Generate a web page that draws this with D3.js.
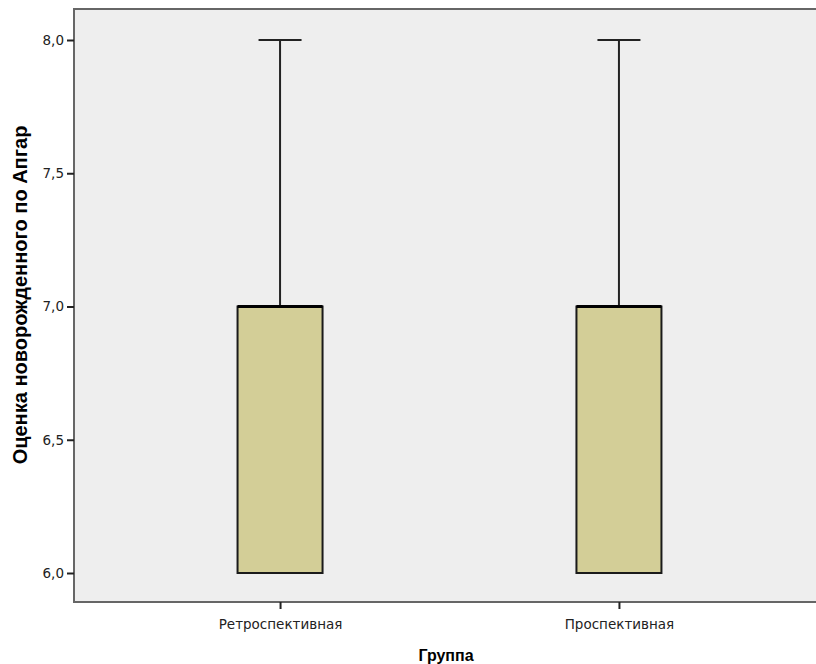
<!DOCTYPE html>
<html>
<head>
<meta charset="utf-8">
<script src="https://cdn.jsdelivr.net/npm/d3@7"></script>
<style>
  body { margin: 0; background: #fff; }
  svg text { font-family: "DejaVu Sans", sans-serif; }
</style>
</head>
<body>
<script>
const WIDTH = 816;
const HEIGHT = 664;

// data
const groups = ["Ретроспективная", "Проспективная"];
const mins = [6, 6];
const q1s = [6, 6];
const medians = [7, 7];
const q3s = [7, 7];
const maxs = [8, 8];
const yTicks = [6, 6.5, 7, 7.5, 8];

const plot = { left: 74, top: 9, right: 825, bottom: 602 };

const svg = d3.select("body")
              .append("svg")
              .attr("width", WIDTH)
              .attr("height", HEIGHT);

const x = d3.scalePoint()
            .domain(groups)
            .range([plot.left, plot.right])
            .padding(0.608);

const y = d3.scaleLinear()
            .domain([6, 8])
            .range([573, 40]);

const boxW = 85;
const capW = 43;

// plot background
svg.append("rect")
   .attr("x", plot.left)
   .attr("y", plot.top)
   .attr("width", plot.right - plot.left)
   .attr("height", plot.bottom - plot.top)
   .attr("fill", "#eeeeee")
   .attr("stroke", "#666")
   .attr("stroke-width", 2);

const rows = groups.map((g, i) => ({
  g, min: mins[i], q1: q1s[i], med: medians[i], q3: q3s[i], max: maxs[i]
}));

const box = svg.append("g")
               .selectAll("g")
               .data(rows)
               .join("g");

// whiskers
box.append("line")
   .attr("x1", d => x(d.g)).attr("x2", d => x(d.g))
   .attr("y1", d => y(d.max)).attr("y2", d => y(d.q3))
   .attr("stroke", "#222").attr("stroke-width", 2);
box.append("line")
   .attr("x1", d => x(d.g)).attr("x2", d => x(d.g))
   .attr("y1", d => y(d.q1)).attr("y2", d => y(d.min))
   .attr("stroke", "#222").attr("stroke-width", 2);
box.append("line")
   .attr("x1", d => x(d.g) - capW / 2).attr("x2", d => x(d.g) + capW / 2)
   .attr("y1", d => y(d.max)).attr("y2", d => y(d.max))
   .attr("stroke", "#222").attr("stroke-width", 2);
box.append("line")
   .attr("x1", d => x(d.g) - capW / 2).attr("x2", d => x(d.g) + capW / 2)
   .attr("y1", d => y(d.min)).attr("y2", d => y(d.min))
   .attr("stroke", "#222").attr("stroke-width", 2);

box.append("rect")
   .attr("x", d => x(d.g) - boxW / 2)
   .attr("y", d => y(d.q3))
   .attr("width", boxW)
   .attr("height", d => y(d.q1) - y(d.q3))
   .attr("fill", "#d3ce97")
   .attr("stroke", "#1a1a1a")
   .attr("stroke-width", 2);

box.append("line")
   .attr("x1", d => x(d.g) - boxW / 2).attr("x2", d => x(d.g) + boxW / 2)
   .attr("y1", d => y(d.med)).attr("y2", d => y(d.med))
   .attr("stroke", "#000").attr("stroke-width", 3);

// axes
const fmt = d => d3.format(".1f")(d).replace(".", ",");

const yAxis = svg.append("g")
   .attr("transform", "translate(" + plot.left + ",0)")
   .call(d3.axisLeft(y).tickValues(yTicks).tickFormat(fmt).tickSize(7).tickPadding(3));
yAxis.select(".domain").remove();
yAxis.selectAll("line").attr("stroke", "#222").attr("stroke-width", 2);
yAxis.selectAll("text").attr("font-size", 13.5).attr("fill", "#222")
     .style("font-family", "'DejaVu Sans', sans-serif");

const xAxis = svg.append("g")
   .attr("transform", "translate(0," + plot.bottom + ")")
   .call(d3.axisBottom(x).tickSize(7).tickPadding(10));
xAxis.select(".domain").remove();
xAxis.selectAll("line").attr("stroke", "#222").attr("stroke-width", 2);
xAxis.selectAll("text").attr("font-size", 13.5).attr("fill", "#222")
     .style("font-family", "'DejaVu Sans', sans-serif");

// titles
svg.append("text")
   .attr("transform", "translate(27,295) rotate(-90)")
   .attr("text-anchor", "middle")
   .attr("font-size", 20)
   .attr("font-weight", "bold")
   .style("font-family", "'Liberation Sans', Arial, sans-serif")
   .text("Оценка новорожденного по Апгар");

svg.append("text")
   .attr("x", 446)
   .attr("y", 661)
   .attr("text-anchor", "middle")
   .attr("font-size", 16)
   .attr("font-weight", "bold")
   .style("font-family", "'Liberation Sans', Arial, sans-serif")
   .text("Группа");
</script>
</body>
</html>
